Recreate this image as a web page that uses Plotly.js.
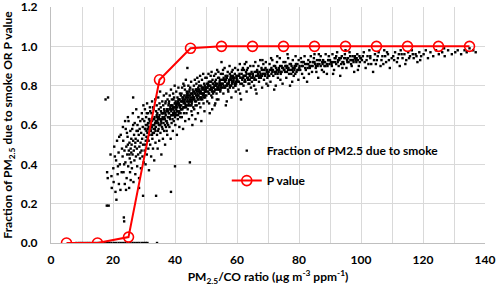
<!DOCTYPE html>
<html>
<head>
<meta charset="utf-8">
<script src="https://cdn.plot.ly/plotly-3.0.1.min.js"></script>
<style>html,body{margin:0;padding:0;background:#fff;}#chart{width:500px;height:290px;}</style>
</head>
<body>
<div id="chart"></div>
<script>
// P value series
const pX = [5, 15, 25, 35, 45, 55, 65, 75, 85, 95, 105, 115, 125, 135];
const pY = [0, 0, 0.03, 0.83, 0.99, 1.0, 1.0, 1.0, 1.0, 1.0, 1.0, 1.0, 1.0, 1.0];

// Axis ticks
const yTicks = [0, 0.2, 0.4, 0.6, 0.8, 1.0, 1.2];
const yTickText = ['0.0', '0.2', '0.4', '0.6', '0.8', '1.0', '1.2'];
const xTicks = [0, 20, 40, 60, 80, 100, 120, 140];

// Points at fraction = 0 (read along the baseline)
const zeroX = [8.2,9.1,9.8,10.5,11.3,12.0,12.7,13.5,14.2,15.0,15.8,16.5,17.3,18.0,18.8,19.5,20.3,21.0,21.8,22.5,23.3,24.0,24.8,25.5,26.3,27.0,27.8,28.5,29.3,30.0,30.6,31.1,34.2];

// Fraction of PM2.5 due to smoke [ratio, fraction]
const smokeLow = [[17.6,.73],[18.4,.74],[18.1,.36],[18.0,.19],[18.6,.19],[18.3,.33],[19.2,.45],[19.6,.28],[20.1,.38],[20.4,.49],[20.2,.31],[20.8,.26],[21.0,.42],[21.3,.52],[21.5,.35],[21.1,.22],[21.8,.46],[21.9,.30],[22.2,.40],[22.5,.55],[22.4,.27],[22.8,.36],[22.9,.48],[23.5,.13],[23.6,.11],[23.2,.59],[19.5,.34],[20.6,.44],[21.6,.39],[22.0,.54],
[26.5,.74],[24.8,.64],[28.4,.28],[29.7,.24],[33.9,.24],[38.7,.26],[40.0,.39],
[23.1,.44],[23.3,.52],[23.4,.36],[23.7,.47],[23.8,.30],[24.0,.41],[24.1,.58],[24.3,.49],[24.4,.33],[24.6,.45],[24.7,.54],[24.9,.39],[25.0,.62],[25.1,.47],[25.2,.28],[25.3,.51],[25.4,.43],[25.5,.36],[25.6,.57],[25.7,.48],[25.8,.41],[25.9,.53],[24.2,.27],[23.9,.62],[25.3,.45],[24.8,.50],[25.7,.32],[23.6,.40],[24.5,.56],[25.9,.46],
[26.0,.50],[26.1,.38],[26.2,.58],[26.3,.45],[26.4,.66],[26.5,.52],[26.6,.31],[26.7,.47],[26.8,.55],[26.9,.42],[27.0,.61],[27.1,.49],[27.2,.35],[27.3,.53],[27.4,.44],[27.5,.68],[27.6,.57],[27.7,.48],[27.8,.39],[27.9,.60],[28.0,.52],[28.1,.45],[28.2,.64],[28.3,.55],[28.4,.33],[28.5,.49],[28.6,.58],[28.7,.43],[28.8,.62],[28.9,.51],[29.0,.38],[29.1,.56],[29.2,.47],[29.3,.66],[29.4,.53],[29.5,.44],[29.6,.59],[29.7,.50],[29.8,.70],[29.9,.41],[26.5,.60],[27.2,.51],[28.0,.57],[28.8,.46],[29.5,.63]];

const smokeMid = [[30.0,.55],[30.1,.62],[30.2,.47],[30.3,.68],[30.4,.58],[30.5,.40],[30.6,.52],[30.7,.64],[30.8,.57],[30.9,.45],[31.0,.71],[31.1,.60],[31.2,.53],[31.3,.66],[31.4,.48],[31.5,.59],[31.6,.37],[31.7,.63],[31.8,.55],[31.9,.69],[32.0,.50],[32.1,.61],[32.2,.57],[32.3,.44],[32.4,.66],[32.5,.59],[32.6,.72],[32.7,.53],[32.8,.63],[32.9,.48],[33.0,.60],[33.1,.68],[33.2,.56],[33.3,.42],[33.4,.64],[33.5,.58],[33.6,.73],[33.7,.51],[33.8,.62],[33.9,.67],[30.4,.50],[31.2,.58],[31.9,.62],[32.6,.55],[33.3,.60],[30.9,.66],[32.0,.67],[33.7,.57],[31.5,.52],[32.9,.69],
[34.0,.61],[34.1,.70],[34.2,.55],[34.3,.66],[34.4,.48],[34.5,.63],[34.6,.74],[34.7,.58],[34.8,.68],[34.9,.52],[35.0,.65],[35.1,.60],[35.2,.77],[35.3,.56],[35.4,.69],[35.5,.62],[35.6,.45],[35.7,.66],[35.8,.59],[35.9,.72],[36.0,.64],[36.1,.53],[36.2,.70],[36.3,.61],[36.4,.75],[36.5,.57],[36.6,.67],[36.7,.63],[36.8,.50],[36.9,.71],[37.0,.65],[37.1,.59],[37.2,.76],[37.3,.62],[37.4,.68],[37.5,.55],[37.6,.73],[37.7,.64],[37.8,.60],[37.9,.70],[34.5,.57],[35.0,.71],[35.5,.67],[36.0,.58],[36.5,.68],[37.0,.72],[37.5,.61],[34.2,.64],[35.8,.63],[36.9,.66],[37.3,.57],[34.8,.60],[36.3,.66],[37.8,.67],[35.3,.63],
[38.0,.66],[38.1,.72],[38.2,.59],[38.3,.75],[38.4,.63],[38.5,.69],[38.6,.53],[38.7,.78],[38.8,.67],[38.9,.61],[39.0,.73],[39.1,.65],[39.2,.70],[39.3,.57],[39.4,.76],[39.5,.68],[39.6,.62],[39.7,.74],[39.8,.66],[39.9,.80],[40.0,.69],[40.1,.60],[40.2,.72],[40.3,.65],[40.4,.77],[40.5,.70],[40.6,.55],[40.7,.67],[40.8,.74],[40.9,.63],[41.0,.71],[41.1,.79],[41.2,.66],[41.3,.73],[41.4,.59],[41.5,.69],[41.6,.76],[41.7,.64],[41.8,.72],[41.9,.68],[38.3,.64],[38.9,.70],[39.4,.66],[39.9,.71],[40.4,.68],[40.9,.72],[41.4,.67],[41.9,.75],[38.6,.68],[39.2,.63],[39.7,.69],[40.2,.66],[40.7,.71],[41.2,.70],[41.7,.69],[38.0,.71],[39.5,.73],[40.0,.64],[41.0,.65],[41.5,.73],
[42.0,.70],[42.1,.76],[42.2,.64],[42.3,.79],[42.4,.68],[42.5,.73],[42.6,.58],[42.7,.81],[42.8,.71],[42.9,.66],[43.0,.75],[43.1,.69],[43.2,.78],[43.3,.62],[43.4,.74],[43.5,.83],[43.6,.70],[43.7,.66],[43.8,.77],[43.9,.72],[44.0,.89],[44.1,.68],[44.2,.75],[44.3,.80],[44.4,.71],[44.5,.63],[44.6,.77],[44.7,.73],[44.8,.41],[44.9,.79],[45.0,.70],[45.1,.74],[45.2,.82],[45.3,.67],[45.4,.76],[45.5,.72],[45.6,.60],[45.7,.78],[45.8,.74],[45.9,.69],[42.4,.74],[42.9,.72],[43.4,.70],[43.9,.76],[44.4,.74],[44.9,.72],[45.4,.71],[45.9,.77],[42.7,.69],[43.2,.73],[43.7,.75],[44.2,.70],[44.7,.78],[45.2,.73],[45.7,.75],[42.2,.72],[43.0,.80],[44.0,.73],[45.0,.76],[45.5,.65]];

const smokeHigh = [[46.0,.74],[46.1,.80],[46.2,.68],[46.3,.77],[46.4,.83],[46.5,.72],[46.6,.63],[46.7,.78],[46.8,.75],[46.9,.81],[47.0,.70],[47.1,.77],[47.2,.84],[47.3,.73],[47.4,.66],[47.5,.79],[47.6,.75],[47.7,.82],[47.8,.71],[47.9,.78],[48.0,.74],[48.1,.85],[48.2,.69],[48.3,.77],[48.4,.80],[48.5,.62],[48.6,.76],[48.7,.83],[48.8,.73],[48.9,.79],[49.0,.75],[49.1,.86],[49.2,.71],[49.3,.78],[49.4,.81],[49.5,.67],[49.6,.77],[49.7,.74],[49.8,.84],[49.9,.79],[46.3,.73],[46.8,.78],[47.3,.76],[47.8,.80],[48.3,.73],[48.8,.76],[49.3,.74],[49.8,.77],[46.6,.76],[47.1,.74],[47.6,.78],[48.1,.77],[48.6,.79],[49.1,.76],[49.6,.80],
[50.0,.78],[50.2,.84],[50.4,.72],[50.6,.80],[50.8,.86],[51.0,.76],[51.2,.66],[51.4,.82],[51.6,.79],[51.8,.87],[52.0,.74],[52.2,.81],[52.4,.77],[52.6,.85],[52.8,.70],[53.0,.80],[53.2,.83],[53.4,.76],[53.6,.88],[53.8,.79],[54.0,.73],[54.2,.84],[54.4,.81],[54.6,.77],[54.8,.86],[50.1,.75],[50.5,.79],[50.9,.82],[51.3,.78],[51.7,.75],[52.1,.83],[52.5,.79],[52.9,.82],[53.3,.78],[53.7,.81],[54.1,.79],[54.5,.83],[54.9,.80],[50.3,.81],[50.7,.77],[51.1,.80],[51.5,.85],[51.9,.78],[52.3,.76],[52.7,.80],[53.1,.86],[53.5,.73],[53.9,.84],[54.3,.78],[54.7,.81],[55.0,.92],[52.0,.68],[53.0,.71],[54.0,.87],[51.0,.71],
[55.2,.81],[55.4,.86],[55.6,.76],[55.8,.83],[56.0,.89],[56.2,.79],[56.4,.70],[56.6,.84],[56.8,.81],[57.0,.87],[57.2,.77],[57.4,.83],[57.6,.90],[57.8,.80],[58.0,.85],[58.2,.74],[58.4,.82],[58.6,.88],[58.8,.79],[59.0,.84],[59.2,.81],[59.4,.89],[59.6,.77],[59.8,.85],[55.3,.79],[55.7,.84],[56.1,.82],[56.5,.80],[56.9,.85],[57.3,.81],[57.7,.86],[58.1,.80],[58.5,.84],[58.9,.82],[59.3,.86],[59.7,.82],[55.5,.88],[56.3,.85],[57.1,.78],[57.9,.83],[58.7,.85],[59.5,.80],[56.7,.72],[58.3,.87],[59.9,.83],
[60.1,.83],[60.3,.88],[60.5,.78],[60.7,.85],[60.9,.91],[61.1,.81],[61.3,.73],[61.5,.86],[61.7,.83],[61.9,.89],[62.1,.80],[62.3,.85],[62.5,.91],[62.7,.82],[62.9,.87],[63.1,.77],[63.3,.84],[63.5,.89],[63.7,.81],[63.9,.86],[64.1,.83],[64.3,.90],[64.5,.79],[64.7,.87],[64.9,.84],[60.4,.82],[60.8,.86],[61.2,.84],[61.6,.88],[62.0,.84],[62.4,.82],[62.8,.85],[63.2,.88],[63.6,.84],[64.0,.81],[64.4,.86],[64.8,.82],[61.0,.76],[63.0,.92],[62.2,.88],
[65.1,.85],[65.3,.90],[65.5,.80],[65.7,.87],[65.9,.92],[66.1,.83],[66.3,.76],[66.5,.88],[66.7,.85],[66.9,.90],[67.1,.82],[67.3,.87],[67.5,.93],[67.7,.84],[67.9,.89],[68.1,.79],[68.3,.86],[68.5,.91],[68.7,.83],[68.9,.88],[69.1,.85],[69.3,.92],[69.5,.81],[69.7,.88],[69.9,.86],[65.6,.84],[66.2,.87],[66.8,.86],[67.4,.85],[68.0,.88],[68.6,.86],[69.2,.89],[69.8,.84],[66.0,.78],[68.2,.93]];

const smokeTail = [[70.2,.87],[70.5,.91],[70.8,.82],[71.1,.89],[71.4,.93],[71.7,.85],[72.0,.78],[72.3,.90],[72.6,.87],[72.9,.92],[73.2,.84],[73.5,.89],[73.8,.94],[74.1,.86],[74.4,.90],[74.7,.81],[70.4,.85],[70.9,.88],[71.4,.87],[71.9,.90],[72.4,.86],[72.9,.88],[73.4,.87],[73.9,.90],[74.4,.87],[74.9,.89],[71.0,.94],[72.5,.80],[73.0,.95],[74.0,.83],[70.0,.80],[75.0,.92],
[75.3,.88],[75.6,.92],[75.9,.84],[76.2,.90],[76.5,.94],[76.8,.86],[77.1,.80],[77.4,.91],[77.7,.88],[78.0,.93],[78.3,.85],[78.6,.90],[78.9,.95],[79.2,.87],[79.5,.91],[79.8,.83],[75.5,.87],[76.0,.89],[76.5,.88],[77.0,.91],[77.5,.86],[78.0,.89],[78.5,.88],[79.0,.91],[79.5,.88],[76.3,.96],[77.8,.82],[78.8,.86],[75.8,.90],[79.9,.93],
[80.2,.90],[80.6,.94],[81.0,.86],[81.4,.92],[81.8,.95],[82.2,.88],[82.6,.82],[83.0,.93],[83.4,.90],[83.8,.95],[84.2,.87],[84.6,.92],[85.0,.96],[85.4,.89],[85.8,.93],[86.2,.84],[86.6,.91],[87.0,.95],[87.4,.88],[87.8,.93],[88.2,.90],[88.6,.96],[89.0,.86],[89.4,.93],[89.8,.91],[80.4,.88],[81.2,.90],[82.0,.91],[82.8,.89],[83.6,.92],[84.4,.90],[85.2,.91],[86.0,.90],[86.8,.93],[87.6,.91],[88.4,.92],[89.2,.90],[81.6,.84],[83.2,.86],[84.8,.94],[86.4,.96],[88.0,.87],[89.6,.95],[85.6,.87],[80.8,.92],
[90.3,.92],[90.8,.96],[91.3,.88],[91.8,.94],[92.3,.97],[92.8,.90],[93.3,.85],[93.8,.95],[94.3,.92],[94.8,.96],[95.3,.89],[95.8,.94],[96.3,.97],[96.8,.91],[97.3,.95],[97.8,.87],[98.3,.93],[98.8,.96],[99.3,.90],[99.8,.94],[90.6,.90],[91.6,.92],[92.6,.93],[93.6,.91],[94.6,.94],[95.6,.92],[96.6,.93],[97.6,.92],[98.6,.94],[99.6,.92],[91.0,.86],[92.0,.95],[94.0,.89],[95.0,.98],[97.0,.90],[98.0,.95],[99.0,.88],[93.0,.94],
[100.3,.93],[100.9,.97],[101.5,.89],[102.1,.95],[102.7,.98],[103.3,.91],[103.9,.87],[104.5,.96],[105.1,.93],[105.7,.97],[106.3,.90],[106.9,.95],[107.5,.98],[108.1,.92],[108.7,.96],[109.3,.89],[109.9,.94],[100.6,.95],[101.8,.93],[103.0,.95],[104.2,.93],[105.4,.95],[106.6,.93],[107.8,.95],[109.0,.93],[102.4,.91],[104.8,.91],[107.2,.91],[101.2,.92],[108.4,.97],
[110.4,.95],[111.0,.97],[111.6,.92],[112.2,.96],[112.8,.98],[113.4,.94],[114.0,.96],[114.6,.93],[115.2,.97],[115.8,.95],[116.4,.98],[117.0,.94],[117.6,.96],[118.2,.92],[118.8,.97],[119.4,.95],[110.7,.93],[111.9,.94],[113.1,.96],[114.3,.91],[115.5,.94],[116.7,.96],[117.9,.95],[119.1,.93],[112.5,.90],
[120.2,.96],[120.9,.98],[121.6,.94],[122.4,.97],[123.3,.95],[124.2,.98],[125.1,.96],[126.2,.97],[127.0,.95],[128.1,.98],[129.3,.96],[130.4,.97],[131.2,.98],[132.3,.96],[133.4,.98],[134.1,.97],[135.0,.99],[136.2,.98],[137.0,.97],[126.8,.99]];

const smokeCore = [[30.3,.58],[30.8,.54],[31.3,.61],[31.8,.57],[32.3,.60],[32.8,.56],[33.3,.63],[33.8,.59],[34.3,.62],[34.8,.64],[35.3,.60],[35.8,.66],[36.3,.63],[36.8,.60],[37.3,.67],[37.8,.64],[38.3,.68],[38.8,.65],[39.3,.69],[39.8,.67],
[40.3,.70],[40.8,.67],[41.3,.71],[41.8,.66],[42.3,.72],[42.8,.69],[43.3,.71],[43.8,.74],[44.3,.72],[44.8,.75],[45.3,.70],[45.8,.73],[46.3,.76],[46.8,.72],[47.3,.75],[47.8,.77],[48.3,.74],[48.8,.78],[49.3,.76],[49.8,.79],
[30.6,.60],[31.1,.56],[31.6,.63],[32.1,.58],[32.6,.62],[33.1,.58],[33.6,.61],[34.1,.65],[34.6,.61],[35.1,.63],[35.6,.61],[36.1,.66],[36.6,.64],[37.1,.62],[37.6,.68],[38.1,.66],[38.6,.70],[39.1,.68],[39.6,.65],[40.1,.71],
[40.6,.69],[41.1,.73],[41.6,.70],[42.1,.68],[42.6,.74],[43.1,.72],[43.6,.69],[44.1,.76],[44.6,.70],[45.1,.72],[45.6,.76],[46.1,.74],[46.6,.70],[47.1,.78],[47.6,.73],[48.1,.76],[48.6,.74],[49.1,.79],[49.6,.75],[50.1,.77],
[50.4,.79],[50.9,.76],[51.4,.80],[51.9,.77],[52.4,.81],[52.9,.78],[53.4,.80],[53.9,.78],[54.4,.82],[54.9,.79],[55.4,.81],[55.9,.79],[56.4,.83],[56.9,.80],[57.4,.82],[57.9,.84],[58.4,.81],[58.9,.83],[59.4,.80],[59.9,.84],
[50.7,.81],[51.2,.78],[51.7,.82],[52.2,.79],[52.7,.77],[53.2,.81],[53.7,.79],[54.2,.80],[54.7,.78],[55.2,.83],[55.7,.80],[56.2,.82],[56.7,.84],[57.2,.81],[57.7,.79],[58.2,.83],[58.7,.82],[59.2,.84],[59.7,.81],[60.2,.85],
[60.6,.82],[61.1,.84],[61.6,.81],[62.1,.85],[62.6,.83],[63.1,.86],[63.6,.83],[64.1,.85],[64.6,.84],[65.1,.86],[65.6,.83],[66.1,.85],[66.6,.87],[67.1,.84],[67.6,.86],[68.1,.85],[68.6,.88],[69.1,.86],[69.6,.87],[70.1,.85],
[70.6,.88],[71.1,.86],[71.6,.88],[72.1,.87],[72.6,.89],[73.1,.86],[73.6,.88],[74.1,.87],[74.6,.89],[75.1,.88],[75.6,.90],[76.1,.87],[76.6,.89],[77.1,.88],[77.6,.90],[78.1,.87],[78.6,.89],[79.1,.90],[79.6,.88],[80.1,.89],
[81.0,.90],[82.0,.89],[83.0,.91],[84.0,.90],[85.0,.92],[86.0,.91],[87.0,.90],[88.0,.92],[89.0,.91],[90.0,.93],[91.0,.92],[92.0,.91],[93.0,.93],[94.0,.92],[95.0,.94],[96.0,.92],[97.0,.93],[98.0,.94],[99.0,.93],[100.0,.94],
[81.5,.92],[82.5,.91],[83.5,.89],[84.5,.92],[85.5,.90],[86.5,.93],[87.5,.92],[88.5,.90],[89.5,.93],[90.5,.91],[91.5,.94],[92.5,.92],[93.5,.94],[94.5,.91],[95.5,.93],[96.5,.95],[97.5,.93],[98.5,.92],[99.5,.95],[103.0,.94]];

const smokeAll = smokeLow.concat(smokeMid, smokeHigh, smokeTail, smokeCore);
const smokeX = zeroX.concat(smokeAll.map(p => p[0]));
const smokeY = zeroX.map(() => 0).concat(smokeAll.map(p => p[1]));

const FONT = 'Lato, "Open Sans", sans-serif';

const traces = [
  {
    x: smokeX, y: smokeY, type: 'scatter', mode: 'markers',
    name: 'Fraction of PM2.5 due to smoke', legendgroup: 'a',
    marker: {symbol: 'square', size: 2.4, color: '#000000', line: {width: 0}},
    hoverinfo: 'skip'
  },
  {
    x: pX, y: pY, type: 'scatter', mode: 'lines+markers',
    name: 'P value', legendgroup: 'b',
    line: {color: '#ff0000', width: 2},
    marker: {symbol: 'circle-open', size: 10, color: '#ff0000', line: {width: 1.6, color: '#ff0000'}}
  }
];

const layout = {
  width: 500, height: 290,
  margin: {l: 51, r: 15, t: 7, b: 47},
  paper_bgcolor: '#ffffff', plot_bgcolor: '#ffffff',
  font: {family: FONT, size: 12, color: '#000000', weight: 'bold'},
  showlegend: true,
  legend: {
    x: 0.405, y: 0.453, xanchor: 'left', yanchor: 'top',
    bgcolor: 'rgba(0,0,0,0)', borderwidth: 0,
    traceorder: 'grouped', tracegroupgap: 11, itemwidth: 30,
    font: {family: FONT, size: 12, color: '#000000', weight: 'bold'}
  },
  xaxis: {
    range: [0, 140], tickvals: xTicks,
    showgrid: true, gridcolor: '#d9d9d9', gridwidth: 1,
    minor: {dtick: 10, showgrid: true, gridcolor: '#d9d9d9', gridwidth: 1},
    zeroline: false, showline: true, linecolor: '#bfbfbf', linewidth: 1,
    ticks: '', ticklabelstandoff: 6, ticklabeloverflow: 'allow',
    tickfont: {family: FONT, size: 12, color: '#000000', weight: 'bold'},
    title: {text: 'PM<sub>2.5</sub>/CO ratio (µg m<sup>-3</sup> ppm<sup>-1</sup>)', standoff: 6,
            font: {family: FONT, size: 12, color: '#000000', weight: 'bold'}}
  },
  yaxis: {
    range: [0, 1.2001], tickvals: yTicks, ticktext: yTickText,
    showgrid: true, gridcolor: '#d9d9d9', gridwidth: 1,
    zeroline: false, showline: true, linecolor: '#bfbfbf', linewidth: 1,
    ticks: '', ticklabelstandoff: 10, ticklabeloverflow: 'allow',
    tickfont: {family: FONT, size: 12, color: '#000000', weight: 'bold'},
    title: {text: 'Fraction of PM<sub>2.5</sub> due to smoke OR P value', standoff: 6,
            font: {family: FONT, size: 12, color: '#000000', weight: 'bold'}}
  }
};

Plotly.newPlot('chart', traces, layout, {staticPlot: true, displayModeBar: false});
</script>
</body>
</html>
